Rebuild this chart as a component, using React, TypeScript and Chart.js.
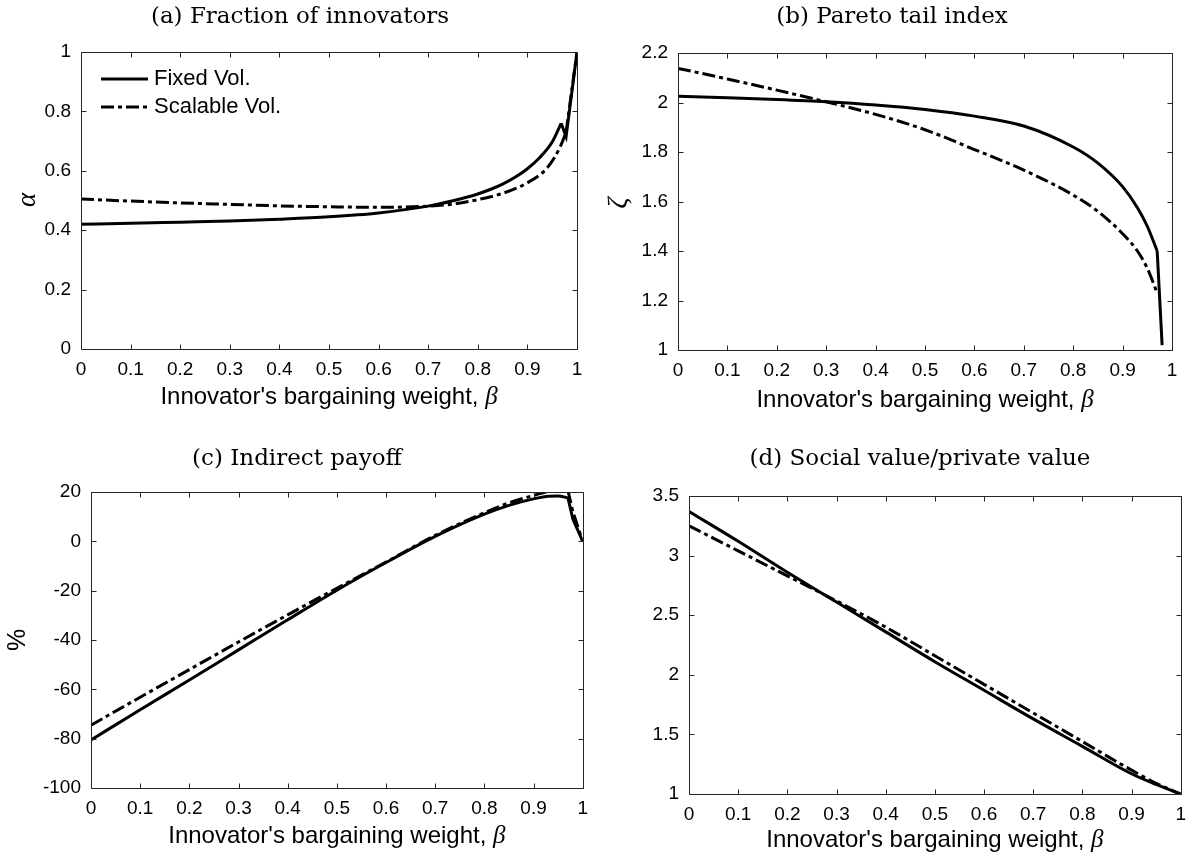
import React, { useEffect, useRef } from "react";
import { Chart, registerables } from "chart.js";
Chart.register(...registerables);

// ---------- (a) Fraction of innovators ----------
const betaFixedA = [0, 0.1, 0.2, 0.3, 0.4, 0.5, 0.6, 0.7, 0.75, 0.8, 0.825, 0.85, 0.875, 0.9, 0.925, 0.95, 0.968, 0.978, 1];
const fixedA = [0.42, 0.423, 0.427, 0.431, 0.437, 0.445, 0.458, 0.481, 0.499, 0.522, 0.537, 0.555, 0.578, 0.607, 0.645, 0.697, 0.76, 0.715, 1.0];
const betaScalA = [0, 0.1, 0.2, 0.3, 0.4, 0.5, 0.6, 0.7, 0.75, 0.8, 0.85, 0.9, 0.94, 0.966, 0.978, 1];
const scalableA = [0.505, 0.498, 0.492, 0.487, 0.482, 0.479, 0.477, 0.481, 0.488, 0.503, 0.524, 0.56, 0.61, 0.68, 0.73, 1.0];

// ---------- (b) Pareto tail index ----------
const betaFixedB = [0, 0.1, 0.2, 0.3, 0.4, 0.5, 0.6, 0.7, 0.8, 0.85, 0.9, 0.93, 0.95, 0.97, 0.98];
const fixedB = [2.025, 2.019, 2.012, 2.003, 1.99, 1.972, 1.945, 1.905, 1.82, 1.755, 1.66, 1.575, 1.5, 1.4, 1.02];
const betaScalB = [0, 0.1, 0.2, 0.3, 0.4, 0.5, 0.6, 0.7, 0.8, 0.85, 0.9, 0.93, 0.95, 0.97];
const scalableB = [2.138, 2.095, 2.05, 2.003, 1.952, 1.89, 1.81, 1.727, 1.626, 1.56, 1.47, 1.4, 1.33, 1.23];

// ---------- (c) Indirect payoff ----------
const betaC = [0, 0.1, 0.2, 0.3, 0.4, 0.5, 0.6, 0.7, 0.8, 0.85, 0.9, 0.93, 0.95, 0.97, 0.98, 1];
const fixedC = [-80.5, -68.3, -56.2, -44.0, -31.8, -19.8, -8.6, 2.0, 11.0, 14.6, 17.2, 18.3, 18.4, 17.6, 9, 0];
const scalableC = [-74.5, -63.2, -52.0, -40.8, -29.8, -19.0, -8.4, 2.4, 11.6, 15.6, 18.6, 20.2, 20.9, 20.6, 12, 0];

// ---------- (d) Social value / private value ----------
const betaD = [0, 0.1, 0.2, 0.3, 0.4, 0.5, 0.6, 0.7, 0.8, 0.9, 0.95, 1];
const fixedD = [3.37, 3.12, 2.86, 2.61, 2.36, 2.11, 1.87, 1.63, 1.4, 1.17, 1.08, 1.0];
const scalableD = [3.25, 3.04, 2.83, 2.62, 2.4, 2.16, 1.92, 1.68, 1.44, 1.2, 1.09, 1.0];

const seriesNames = ["Fixed Vol.", "Scalable Vol."];
const titles = [
  "(a) Fraction of innovators",
  "(b) Pareto tail index",
  "(c) Indirect payoff",
  "(d) Social value/private value",
];
const xAxisText = "Innovator's bargaining weight, ";

const SANS = '"Liberation Sans", Arial, sans-serif';
const SERIF = '"DejaVu Serif", "Liberation Serif", serif';
const ISERIF = '"Liberation Serif", "DejaVu Serif", serif';
const AXIS = "#262626";
const DASH = [13, 4, 4, 4];

function fmt(v: number) {
  return String(Number(Number(v).toFixed(2)));
}

// brk: index after which the curve is drawn with straight segments (kinks)
type Series = { xs: number[]; ys: number[]; dashed: boolean; label: string; brk: number };
type YLabel = { text: string; font: string; x: number; y: number } | null;
type PanelCfg = {
  box: [number, number, number, number];
  area: [number, number, number, number];
  yMin: number;
  yMax: number;
  yStep: number;
  series: Series[];
  title: string;
  titlePos: [number, number];
  yLabel: YLabel;
  xLabelY: number;
  legend: boolean;
};

const panels: PanelCfg[] = [
  {
    box: [0, 0, 597, 430],
    area: [81, 52, 577, 349],
    yMin: 0, yMax: 1, yStep: 0.2,
    series: [
      { xs: betaFixedA, ys: fixedA, dashed: false, label: seriesNames[0], brk: 16 },
      { xs: betaScalA, ys: scalableA, dashed: true, label: seriesNames[1], brk: 14 },
    ],
    title: titles[0],
    titlePos: [300, 17],
    yLabel: { text: "α", font: `italic 27px ${ISERIF}`, x: 28, y: 200 },
    xLabelY: 397,
    legend: true,
  },
  {
    box: [597, 0, 598, 430],
    area: [678, 53, 1172, 350],
    yMin: 1, yMax: 2.2, yStep: 0.2,
    series: [
      { xs: betaFixedB, ys: fixedB, dashed: false, label: seriesNames[0], brk: 13 },
      { xs: betaScalB, ys: scalableB, dashed: true, label: seriesNames[1], brk: 13 },
    ],
    title: titles[1],
    titlePos: [892, 17],
    yLabel: { text: "ζ", font: `italic 27px ${ISERIF}`, x: 619, y: 203 },
    xLabelY: 400,
    legend: false,
  },
  {
    box: [0, 430, 597, 431],
    area: [91, 492, 584, 788],
    yMin: -100, yMax: 20, yStep: 20,
    series: [
      { xs: betaC, ys: fixedC, dashed: false, label: seriesNames[0], brk: 13 },
      { xs: betaC, ys: scalableC, dashed: true, label: seriesNames[1], brk: 13 },
    ],
    title: titles[2],
    titlePos: [297, 459],
    yLabel: { text: "%", font: `25px ${SANS}`, x: 18, y: 640 },
    xLabelY: 836,
    legend: false,
  },
  {
    box: [597, 430, 598, 431],
    area: [689, 496, 1187, 794],
    yMin: 1, yMax: 3.5, yStep: 0.5,
    series: [
      { xs: betaD, ys: fixedD, dashed: false, label: seriesNames[0], brk: 11 },
      { xs: betaD, ys: scalableD, dashed: true, label: seriesNames[1], brk: 11 },
    ],
    title: titles[3],
    titlePos: [920, 459],
    yLabel: null,
    xLabelY: 840,
    legend: false,
  },
];

function Panel({ cfg }: { cfg: PanelCfg }) {
  const ref = useRef<HTMLCanvasElement>(null);
  useEffect(() => {
    const canvas = ref.current;
    if (!canvas) return;
    const [cl, ct, cw, ch] = cfg.box;
    const [al, at, ar, ab] = cfg.area;
    const YW = 60;
    const XH = 60;

    const decor = {
      id: "decor",
      afterDraw(chart: any) {
        const ctx: CanvasRenderingContext2D = chart.ctx;
        const { left, right, top, bottom } = chart.chartArea;
        const xs = chart.scales.x;
        const ys = chart.scales.y;
        ctx.save();
        ctx.strokeStyle = AXIS;
        ctx.lineWidth = 1;
        const L = Math.round(left) + 0.5;
        const T = Math.round(top) + 0.5;
        const R = Math.round(right) + 0.5;
        const B = Math.round(bottom) + 0.5;
        ctx.beginPath();
        ctx.rect(L, T, R - L, B - T);
        ctx.stroke();
        ctx.beginPath();
        const tl = 5;
        xs.ticks.forEach((t: any) => {
          const px = Math.round(xs.getPixelForValue(t.value)) + 0.5;
          ctx.moveTo(px, B);
          ctx.lineTo(px, B - tl);
          ctx.moveTo(px, T);
          ctx.lineTo(px, T + tl);
        });
        ys.ticks.forEach((t: any) => {
          const py = Math.round(ys.getPixelForValue(t.value)) + 0.5;
          ctx.moveTo(L, py);
          ctx.lineTo(L + tl, py);
          ctx.moveTo(R, py);
          ctx.lineTo(R - tl, py);
        });
        ctx.stroke();

        ctx.fillStyle = "#000";
        ctx.font = `23px ${SERIF}`;
        ctx.textAlign = "center";
        ctx.textBaseline = "middle";
        ctx.fillText(cfg.title, cfg.titlePos[0] - cl, cfg.titlePos[1] - ct);

        const mainFont = `24px ${SANS}`;
        const betaFont = `italic 25px ${ISERIF}`;
        ctx.font = mainFont;
        const w1 = ctx.measureText(xAxisText).width;
        ctx.font = betaFont;
        const w2 = ctx.measureText("β").width;
        const cx = (left + right) / 2;
        const sx = cx - (w1 + w2) / 2;
        const ly = cfg.xLabelY - ct;
        ctx.textAlign = "left";
        ctx.font = mainFont;
        ctx.fillText(xAxisText, sx, ly);
        ctx.font = betaFont;
        ctx.fillText("β", sx + w1, ly);

        if (cfg.yLabel) {
          ctx.save();
          ctx.translate(cfg.yLabel.x - cl, cfg.yLabel.y - ct);
          ctx.rotate(-Math.PI / 2);
          ctx.font = cfg.yLabel.font;
          ctx.textAlign = "center";
          ctx.textBaseline = "middle";
          ctx.fillText(cfg.yLabel.text, 0, 0);
          ctx.restore();
        }

        if (cfg.legend) {
          const rows = [79, 107];
          cfg.series.forEach((s, i) => {
            const y = rows[i] - ct;
            ctx.save();
            ctx.strokeStyle = "#000";
            ctx.lineWidth = 3;
            ctx.lineCap = "butt";
            ctx.setLineDash(s.dashed ? DASH : []);
            ctx.beginPath();
            ctx.moveTo(101 - cl, y);
            ctx.lineTo(148 - cl, y);
            ctx.stroke();
            ctx.restore();
            ctx.font = `22px ${SANS}`;
            ctx.textAlign = "left";
            ctx.textBaseline = "middle";
            ctx.fillText(s.label, 154 - cl, y);
          });
        }
        ctx.restore();
      },
    };

    const datasets: any[] = [];
    cfg.series.forEach((s) => {
      const pts = s.xs.map((x, i) => ({ x, y: s.ys[i] }));
      const common = {
        label: s.label,
        borderColor: "#000",
        backgroundColor: "#000",
        borderWidth: 3,
        borderDash: s.dashed ? DASH : [],
        borderCapStyle: "butt",
        borderJoinStyle: "miter",
        pointRadius: 0,
        pointHoverRadius: 0,
        fill: false,
      };
      datasets.push({ ...common, data: pts.slice(0, s.brk + 1), cubicInterpolationMode: "monotone" });
      if (s.brk < pts.length - 1) {
        datasets.push({ ...common, data: pts.slice(s.brk), tension: 0 });
      }
    });

    const chart = new Chart(canvas, {
      type: "line",
      data: { datasets },
      options: {
        responsive: false,
        maintainAspectRatio: false,
        animation: false,
        devicePixelRatio: 1,
        events: [],
        layout: {
          padding: {
            left: al - cl - YW,
            top: at - ct,
            right: cl + cw - ar,
            bottom: ct + ch - ab - XH,
          },
        },
        plugins: {
          legend: { display: false },
          tooltip: { enabled: false },
          title: { display: false },
        },
        scales: {
          x: {
            type: "linear",
            min: 0,
            max: 1,
            grid: { display: false, drawTicks: false },
            border: { display: false },
            ticks: {
              stepSize: 0.1,
              autoSkip: false,
              maxRotation: 0,
              padding: 9,
              color: "#000",
              font: { family: SANS, size: 19 },
              callback: (v: any) => fmt(v),
            },
            afterFit: (s: any) => {
              s.height = XH;
            },
          },
          y: {
            type: "linear",
            min: cfg.yMin,
            max: cfg.yMax,
            grid: { display: false, drawTicks: false },
            border: { display: false },
            ticks: {
              stepSize: cfg.yStep,
              autoSkip: false,
              padding: 10,
              color: "#000",
              font: { family: SANS, size: 19 },
              callback: (v: any) => fmt(v),
            },
            afterFit: (s: any) => {
              s.width = YW;
            },
          },
        },
      } as any,
      plugins: [decor],
    });
    return () => chart.destroy();
  }, [cfg]);

  const [cl, ct, cw, ch] = cfg.box;
  return (
    <canvas
      ref={ref}
      width={cw}
      height={ch}
      style={{ position: "absolute", left: cl, top: ct, width: cw, height: ch }}
    />
  );
}

export default function App() {
  return (
    <div
      style={{
        position: "absolute",
        left: 0,
        top: 0,
        width: 1195,
        height: 861,
        background: "#fff",
        overflow: "hidden",
      }}
    >
      {panels.map((p, i) => (
        <Panel key={i} cfg={p} />
      ))}
    </div>
  );
}
